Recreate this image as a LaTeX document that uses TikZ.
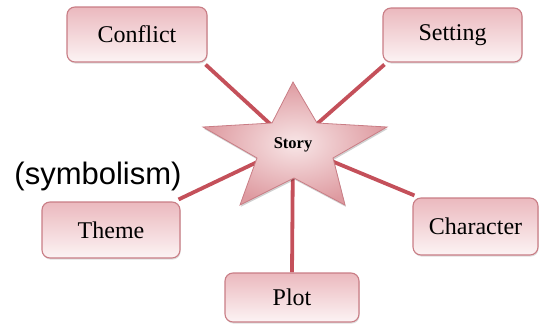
\documentclass[tikz,border=0pt]{standalone}
\usepackage{fontspec}
\setmainfont{Liberation Serif}
\newfontfamily\arialfont{Liberation Sans}
\usetikzlibrary{shadows}
\pgfdeclarelayer{bg}
\pgfsetlayers{bg,main}
\definecolor{boxtop}{HTML}{EBB9BE}
\definecolor{boxbot}{HTML}{FCF3F4}
\definecolor{boxline}{HTML}{C97D85}
\definecolor{linkred}{HTML}{C4505A}
\definecolor{starin}{HTML}{F8E6E7}
\definecolor{starout}{HTML}{DE9AA0}
\tikzset{
  topic/.style={draw=boxline, line width=1.1pt, rounded corners=8pt,
    top color=boxtop, bottom color=boxbot, inner sep=0pt,
    font=\fontsize{24}{24}\selectfont,
    drop shadow={opacity=0.25, shadow xshift=0.6pt, shadow yshift=-1.6pt}},
  link/.style={draw=linkred, line width=3.8pt}
}
\begin{document}
\begin{tikzpicture}[x=1pt,y=-1pt]
\useasboundingbox (0,0) rectangle (540,324);
% boxes
\node[topic, minimum width=140pt, minimum height=55pt] (conflict) at (137,34.5) {Conflict};
\node[topic, minimum width=139pt, minimum height=54pt] (setting) at (452.5,35) {Setting};
\node[topic, minimum width=138pt, minimum height=56pt] (theme) at (111,230) {Theme};
\node[topic, minimum width=134pt, minimum height=49pt] (plot) at (292,297.5) {Plot};
\node[topic, minimum width=125pt, minimum height=57pt] (character) at (475.5,226.5) {Character};
% star
\path[fill=black, opacity=0.18, xshift=0.8pt, yshift=-1.8pt]
  (293,82) -- (317,123) -- (387,127) -- (333,158) -- (345,205) -- (294,178)
  -- (240,205) -- (257,158) -- (203,127) -- (272,123) -- cycle;
\shade[inner color=starin, outer color=starout]
  (293,82) -- (317,123) -- (387,127) -- (333,158) -- (345,205) -- (294,178)
  -- (240,205) -- (257,158) -- (203,127) -- (272,123) -- cycle;
\draw[boxline, line width=0.8pt, line join=miter]
  (293,82) -- (317,123) -- (387,127) -- (333,158) -- (345,205) -- (294,178)
  -- (240,205) -- (257,158) -- (203,127) -- (272,123) -- cycle;
\node[font=\bfseries\fontsize{16.5}{16.5}\selectfont, inner sep=0pt] (story) at (293,145) {Story};
% label
\node[font=\arialfont\fontsize{31}{31}\selectfont, inner sep=0pt] (symb) at (98,176.5) {(symbolism)};
% connectors
\begin{pgfonlayer}{bg}
\draw[link] ([shift={(-2pt,-2pt)}]conflict.south east) -- (story.center);
\draw[link] ([shift={(2pt,-2pt)}]setting.south west) -- (story.center);
\draw[link] ([shift={(-2pt,2pt)}]theme.north east) -- (story.center);
\draw[link] ([shift={(2pt,2pt)}]character.north west) -- (story.center);
\draw[link] (plot.north) -- (story.center);
\end{pgfonlayer}
\end{tikzpicture}
\end{document}
